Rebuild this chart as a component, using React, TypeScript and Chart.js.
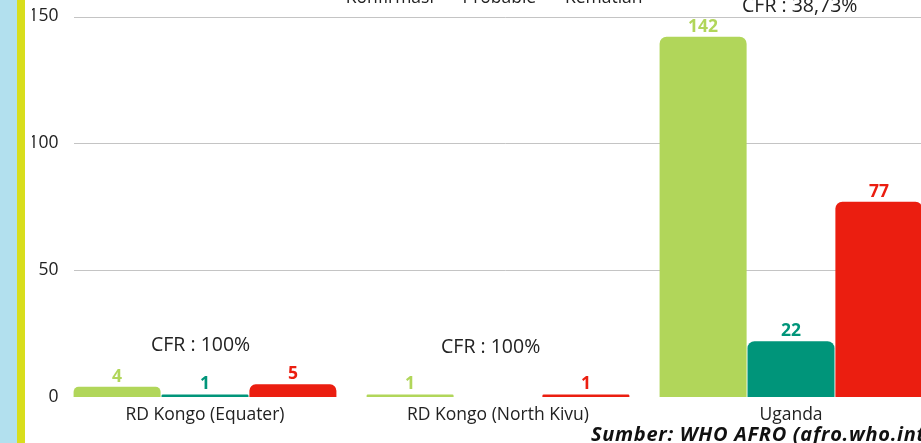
import React, { useEffect, useRef } from "react";
import { Chart, registerables } from "chart.js";

Chart.register(...registerables);

const categories = ["RD Kongo (Equater)", "RD Kongo (North Kivu)", "Uganda"];
const seriesLabels = ["Konfirmasi", "Probable", "Kematian"];
const konfirmasi = [4, 1, 142];
const probable = [1, 0, 22];
const kematian = [5, 1, 77];
const seriesColors = ["#b1d65a", "#00957a", "#eb1e10"];
const yTicks = [0, 50, 100, 150];
const cfrLabels = ["CFR : 100%", "CFR : 100%", "CFR : 38,73%"];
const cfrAt = [20.5, 19.7, 154];
const cfrShift = [-0.015, -0.025, 0.03];
const sourceText = "Sumber: WHO AFRO (afro.who.int)";

const FONT = "'Open Sans', 'Noto Sans', sans-serif";
const FS = 17.5;
const CFR_FS = 19.5;
const TEXT = "#222222";

const overlay = {
  id: "overlay",
  beforeDatasetsDraw(chart: any) {
    const { ctx, chartArea, scales } = chart;
    const y = scales.y;
    ctx.save();
    ctx.strokeStyle = "#c4c4c4";
    ctx.lineWidth = 1;
    yTicks.forEach((v) => {
      if (v === 0) return;
      const py = Math.round(y.getPixelForValue(v)) + 0.5;
      ctx.beginPath();
      ctx.moveTo(chartArea.left + 15.5, py);
      ctx.lineTo(chartArea.right, py);
      ctx.stroke();
    });
    ctx.restore();
  },
  afterDatasetsDraw(chart: any) {
    const { ctx, scales } = chart;
    const x = scales.x;
    const y = scales.y;
    ctx.save();
    ctx.textAlign = "center";
    ctx.textBaseline = "alphabetic";
    ctx.font = `bold ${FS}px ${FONT}`;
    chart.data.datasets.forEach((ds: any, di: number) => {
      const meta = chart.getDatasetMeta(di);
      meta.data.forEach((bar: any, i: number) => {
        const v = ds.data[i];
        if (!v) return;
        ctx.fillStyle = ds.backgroundColor;
        ctx.fillText(String(v), bar.x, bar.y - 5);
      });
    });
    ctx.font = `${CFR_FS}px ${FONT}`;
    ctx.fillStyle = TEXT;
    ctx.textBaseline = "middle";
    const catW = x.width / categories.length;
    cfrLabels.forEach((t, i) => {
      const px = x.getPixelForValue(i) + cfrShift[i] * catW;
      const py = y.getPixelForValue(cfrAt[i]);
      ctx.fillText(t, px, py);
    });
    ctx.restore();
  },
};

export default function App() {
  const ref = useRef<HTMLCanvasElement | null>(null);
  useEffect(() => {
    if (!ref.current) return;
    const chart = new Chart(ref.current, {
      type: "bar",
      data: {
        labels: categories,
        datasets: [konfirmasi, probable, kematian].map((d, i) => ({
          label: seriesLabels[i],
          data: d,
          backgroundColor: seriesColors[i],
          borderRadius: 7,
          borderSkipped: "bottom",
          categoryPercentage: 0.9,
          barPercentage: 0.99,
        })),
      },
      options: {
        responsive: false,
        animation: false,
        events: [],
        layout: { padding: { left: 32, right: 22.5, top: 0, bottom: 15 } },
        plugins: {
          legend: {
            position: "top",
            labels: {
              boxWidth: 10,
              boxHeight: 6,
              padding: 10,
              color: TEXT,
              font: { family: FONT, size: FS },
              generateLabels: (c: any) =>
                c.data.datasets.map((ds: any, i: number) => ({
                  text: ds.label,
                  fillStyle: "rgba(0,0,0,0)",
                  strokeStyle: "rgba(0,0,0,0)",
                  lineWidth: 0,
                  fontColor: TEXT,
                  hidden: false,
                  datasetIndex: i,
                })),
            },
          },
          tooltip: { enabled: false },
        },
        scales: {
          x: {
            grid: { display: false, drawTicks: false },
            border: { display: false },
            ticks: { padding: 8, color: TEXT, font: { family: FONT, size: FS } },
          },
          y: {
            min: 0,
            max: 150,
            afterBuildTicks: (s: any) => {
              s.ticks = yTicks.map((v) => ({ value: v }));
            },
            afterFit: (s: any) => {
              s.width = 26.5;
            },
            grid: { display: false, drawTicks: false },
            border: { display: false },
            ticks: { padding: 0, color: TEXT, font: { family: FONT, size: FS } },
          },
        },
      },
      plugins: [overlay],
    } as any);
    return () => chart.destroy();
  }, []);

  return (
    <div
      style={{
        position: "fixed",
        left: 0,
        top: 0,
        width: 921,
        height: 443,
        overflow: "hidden",
        background: "#ffffff",
      }}
    >
      <canvas
        ref={ref}
        width={960}
        height={470}
        style={{ position: "absolute", left: 0, top: -21, width: 960, height: 470 }}
      />
      <div style={{ position: "absolute", left: 0, top: 0, width: 17, height: 443, background: "#b2e0ee" }} />
      <div style={{ position: "absolute", left: 17, top: 0, width: 8, height: 443, background: "#d8de1c" }} />
      <div
        style={{
          position: "absolute",
          left: 591,
          top: 422,
          whiteSpace: "nowrap",
          fontFamily: FONT,
          fontWeight: 700,
          fontStyle: "italic",
          fontSize: 20,
          letterSpacing: "0.7px",
          lineHeight: "24px",
          color: "#111111",
        }}
      >
        {sourceText}
      </div>
    </div>
  );
}
